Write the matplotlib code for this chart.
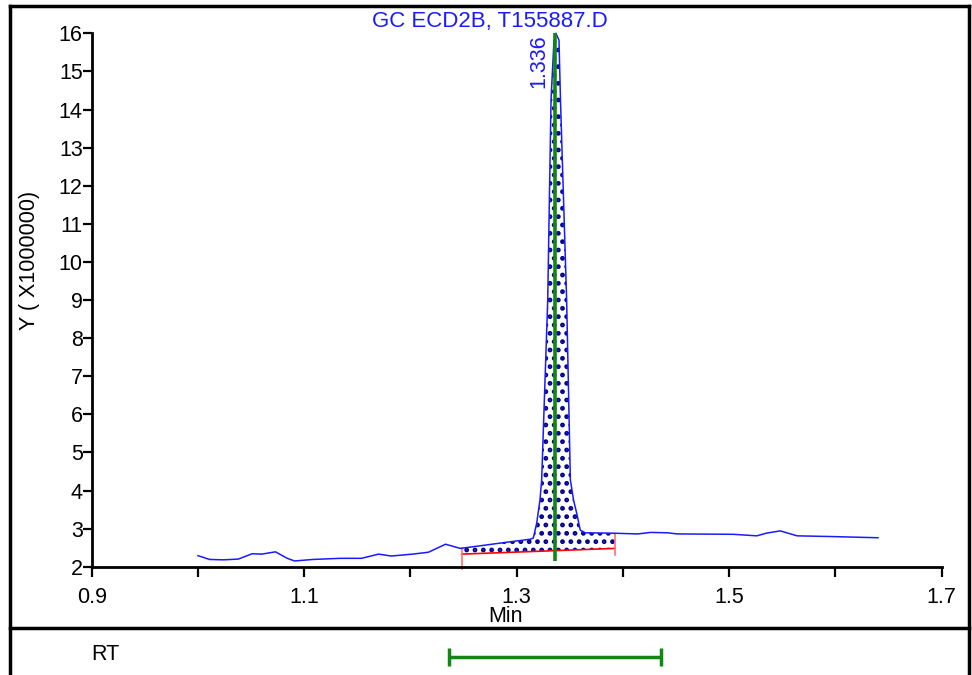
import numpy as np
import matplotlib
matplotlib.use('Agg')
import matplotlib.pyplot as plt
from matplotlib.lines import Line2D

plt.rcParams['font.family'] = ['Liberation Sans', 'DejaVu Sans']
plt.rcParams['hatch.linewidth'] = 2.2

# chromatogram trace (min, signal x1e6)
time = [1.000, 1.011, 1.024, 1.038, 1.051, 1.060, 1.073, 1.084, 1.091, 1.108,
        1.134, 1.154, 1.170, 1.182, 1.202, 1.217, 1.233, 1.247, 1.266, 1.290,
        1.3125, 1.3156, 1.3188, 1.3219, 1.3235, 1.3292, 1.3323, 1.3351, 1.3369, 1.3398,
        1.3412, 1.347, 1.3505, 1.3535, 1.3565, 1.3598, 1.3645, 1.390, 1.414, 1.426,
        1.442, 1.451, 1.480, 1.504, 1.526, 1.535, 1.548, 1.564, 1.598, 1.640]
signal = [2.29, 2.19, 2.18, 2.20, 2.34, 2.33, 2.39, 2.22, 2.15, 2.19,
          2.22, 2.22, 2.33, 2.28, 2.33, 2.38, 2.59, 2.48, 2.55, 2.64,
          2.72, 2.75, 3.14, 3.75, 4.28, 9.00, 14.25, 15.82, 16.00, 15.82,
          14.25, 9.00, 4.28, 3.75, 3.40, 2.96, 2.89, 2.88, 2.86, 2.90,
          2.89, 2.86, 2.855, 2.85, 2.81, 2.88, 2.94, 2.81, 2.79, 2.76]

peak_rt = 1.336
peak_label = '1.336'
# integration baseline (start, end)
base_x = [1.2482, 1.3925]
base_y = [2.33, 2.48]
# retention time window
rt_window = [1.236, 1.436]

title = 'GC ECD2B, T155887.D'
x_ticks = [0.9, 1.0, 1.1, 1.2, 1.3, 1.4, 1.5, 1.6, 1.7]
x_tick_labels = ['0.9', '', '1.1', '', '1.3', '', '1.5', '', '1.7']
y_ticks = list(range(2, 17))

W, H = 972, 675
fig = plt.figure(figsize=(W / 100, H / 100), dpi=100)

# main chromatogram axes
ax = fig.add_axes([91.7 / W, 1 - 566.7 / H, 850 / W, 533.4 / H])
time = np.array(time)
signal = np.array(signal)

# hatched peak area between trace and integration baseline
mask = (time > base_x[0]) & (time < base_x[1])
xs = np.concatenate([[base_x[0]], time[mask], [base_x[1]]])
ys = np.interp(xs, time, signal)
bs = np.interp(xs, base_x, base_y)
ax.fill_between(xs, bs, ys, facecolor='none', edgecolor='#000090', hatch='..', linewidth=0, zorder=1)

ax.plot(time, signal, color='#1a1aff', lw=1.1, zorder=3, clip_on=False)
ax.plot(base_x, base_y, color='red', lw=1.2, zorder=2)
ax.plot([base_x[0], base_x[0]], [base_y[0] + 0.16, base_y[0] - 0.39], color='#ff7070', lw=1.2, clip_on=False)
ax.plot([base_x[1], base_x[1]], [base_y[1] + 0.37, base_y[1] - 0.17], color='#ff7070', lw=1.2, clip_on=False)
ax.vlines(peak_rt, 2.15, 16, color='#118811', lw=2.6, zorder=4)
ax.annotate(peak_label, xy=(peak_rt, 16), xytext=(-4, -1), textcoords='offset points',
            rotation=90, ha='right', va='top', color='#1a1aff', fontsize=15.5)

ax.set_xlim(0.9, 1.7)
ax.set_ylim(2, 16)
ax.set_xticks(x_ticks)
ax.set_xticklabels(x_tick_labels)
ax.set_yticks(y_ticks)
for s in ['top', 'right']:
    ax.spines[s].set_visible(False)
for s in ['left', 'bottom']:
    ax.spines[s].set_linewidth(2)
ax.tick_params(axis='x', direction='out', length=7.5, width=1.6, pad=7, labelsize=15.5)
ax.tick_params(axis='y', direction='out', length=6.5, width=1.6, pad=0, labelsize=15.5)

fig.text(490 / W, 1 - 22 / H, title, color='#1a1aff', fontsize=16, ha='center', va='center')
fig.text(30 / W, 1 - 260 / H, 'Y ( X1000000)', rotation=90, fontsize=15.5, ha='center', va='center')
fig.text(505 / W, 1 - 617 / H, 'Min', fontsize=15.5, ha='center', va='center')

# lower RT panel
ax2 = fig.add_axes([91.7 / W, 0, 850 / W, (H - 630) / H])
ax2.set_xlim(0.9, 1.7)
ax2.set_ylim(-1, 1)
ax2.axis('off')
ax2.errorbar((rt_window[0] + rt_window[1]) / 2, -0.2, xerr=(rt_window[1] - rt_window[0]) / 2,
             fmt='none', ecolor='#118811', elinewidth=2.5, capsize=6.5, capthick=2.5)
fig.text(105 / W, 1 - 654 / H, 'RT', fontsize=15.5, ha='center', va='center')

# outer frame
lw = 2.5
fig.add_artist(Line2D([10 / W, 969 / W], [1 - 6 / H, 1 - 6 / H], color='black', lw=lw))
fig.add_artist(Line2D([10 / W, 10 / W], [0, 1 - 6 / H], color='black', lw=lw))
fig.add_artist(Line2D([969 / W, 969 / W], [0, 1 - 6 / H], color='black', lw=lw))
fig.add_artist(Line2D([10 / W, 969 / W], [1 - 628 / H, 1 - 628 / H], color='black', lw=lw))

fig.savefig('out.png', dpi=100)
